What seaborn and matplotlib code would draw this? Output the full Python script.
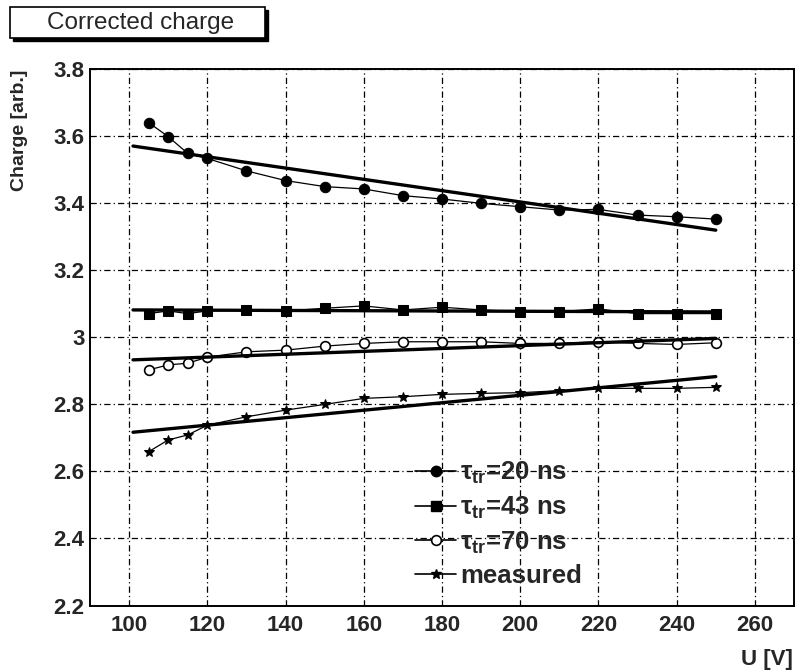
import matplotlib
matplotlib.use("Agg")
import matplotlib.pyplot as plt
from matplotlib.lines import Line2D
from matplotlib.patches import Rectangle
from matplotlib.ticker import MultipleLocator
import seaborn as sns
import pandas as pd

# ---- data ----
voltage = [105, 110, 115, 120, 130, 140, 150, 160, 170, 180, 190, 200, 210, 220, 230, 240, 250]
tau20 = [3.641, 3.599, 3.549, 3.534, 3.497, 3.468, 3.450, 3.443, 3.423, 3.413,
         3.400, 3.390, 3.380, 3.382, 3.365, 3.360, 3.353]
tau43 = [3.071, 3.079, 3.071, 3.079, 3.082, 3.079, 3.087, 3.094, 3.082, 3.090,
         3.082, 3.077, 3.077, 3.085, 3.071, 3.071, 3.071]
tau70 = [2.903, 2.918, 2.923, 2.941, 2.957, 2.962, 2.974, 2.982, 2.987, 2.987,
         2.987, 2.982, 2.982, 2.987, 2.982, 2.979, 2.984]
measured = [2.659, 2.694, 2.709, 2.738, 2.763, 2.783, 2.800, 2.818, 2.823, 2.830,
            2.833, 2.835, 2.841, 2.848, 2.848, 2.848, 2.851]

fit_x = [101, 250]
fit20 = [3.571, 3.320]
fit43 = [3.082, 3.076]
fit70 = [2.933, 2.997]
fitm = [2.717, 2.883]

labels = [r"$\tau_{tr}$=20 ns", r"$\tau_{tr}$=43 ns", r"$\tau_{tr}$=70 ns", "measured"]
title_text = "Corrected charge"
xlabel = "U [V]"
ylabel = "Charge [arb.]"
xticks = [100, 120, 140, 160, 180, 200, 220, 240, 260]
xticklabels = ["100", "120", "140", "160", "180", "200", "220", "240", "260"]
yticks = [2.2, 2.4, 2.6, 2.8, 3.0, 3.2, 3.4, 3.6, 3.8]
yticklabels = ["2.2", "2.4", "2.6", "2.8", "3", "3.2", "3.4", "3.6", "3.8"]

# ---- style ----
sns.set_style("white")
plt.rcParams["font.family"] = ["Liberation Sans", "DejaVu Sans"]
plt.rcParams["mathtext.fontset"] = "custom"
plt.rcParams["mathtext.it"] = "Liberation Sans:bold"
plt.rcParams["mathtext.rm"] = "Liberation Sans:bold"
NARROW = ["Liberation Sans Narrow", "Liberation Sans", "DejaVu Sans"]

W, H = 796, 672
fig = plt.figure(figsize=(W / 100, H / 100), dpi=100)
ax = fig.add_axes([90 / W, 1 - 605.5 / H, (794 - 90) / W, (605.5 - 69.3) / H])

series = [
    (tau20, fit20, dict(marker="o", markersize=7.5, markerfacecolor="black", markeredgecolor="black")),
    (tau43, fit43, dict(marker="s", markersize=7, markerfacecolor="black", markeredgecolor="black")),
    (tau70, fit70, dict(marker="o", markersize=7, markerfacecolor="white", markeredgecolor="black", markeredgewidth=1.2)),
    (measured, fitm, dict(marker="*", markersize=7, markerfacecolor="black", markeredgecolor="black")),
]

for vals, fit, mk in series:
    df = pd.DataFrame({"U": voltage, "Q": vals})
    sns.lineplot(data=df, x="U", y="Q", ax=ax, color="black", lw=0.9, zorder=3, **mk)
    dff = pd.DataFrame({"U": fit_x, "Q": fit})
    sns.lineplot(data=dff, x="U", y="Q", ax=ax, color="black", lw=2.4, zorder=4)

ax.set_xlim(90, 270)
ax.set_ylim(2.2, 3.8)
ax.xaxis.set_minor_locator(MultipleLocator(5))
ax.yaxis.set_minor_locator(MultipleLocator(0.05))
ax.set_xticks(xticks)
ax.set_xticklabels(xticklabels)
ax.set_yticks(yticks)
ax.set_yticklabels(yticklabels)

ax.tick_params(axis="both", which="both", direction="in", top=False, right=False,
               color="black", width=1.0, labelsize=16)
ax.tick_params(axis="x", which="major", length=10, pad=7)
ax.tick_params(axis="x", which="minor", length=5)
ax.tick_params(axis="y", which="major", length=14, pad=4)
ax.tick_params(axis="y", which="minor", length=8)
for lab in ax.get_xticklabels() + ax.get_yticklabels():
    lab.set_fontweight("bold")
    lab.set_family(NARROW)

ax.grid(True, which="major", color="black", linestyle=(0, (5, 2.5, 1, 2.5)), lw=0.9)
for s in ax.spines.values():
    s.set_color("black")
    s.set_linewidth(1.4)
    s.set_visible(True)

ax.set_xlabel("")
ax.set_ylabel("")
fig.text(793 / W, 1 - 659 / H, xlabel, ha="right", va="center", fontsize=16,
         fontweight="bold", family=NARROW)
fig.text(20 / W, 1 - 70 / H, ylabel, ha="center", va="top", rotation=90, fontsize=14,
         fontweight="bold")

# legend
handles = [Line2D([0], [0], color="black", lw=1.2, **s[2]) for s in series]
leg = ax.legend(handles, labels, loc="upper left", bbox_to_anchor=(415 / W, 1 - 460 / H),
                bbox_transform=fig.transFigure, frameon=False, fontsize=18.5,
                handlelength=1.6, handletextpad=0.15, labelspacing=0.33, borderpad=0,
                borderaxespad=0)
for t in leg.get_texts():
    t.set_fontweight("bold")

# title box with shadow
fig.patches.append(Rectangle((13 / W, 1 - 41 / H), 255 / W, 31 / H, transform=fig.transFigure,
                             facecolor="black", edgecolor="black", zorder=1))
fig.patches.append(Rectangle((10 / W, 1 - 38 / H), 255 / W, 31 / H, transform=fig.transFigure,
                             facecolor="white", edgecolor="black", lw=1.2, zorder=2))
fig.text(141 / W, 1 - 22.5 / H, title_text, ha="center", va="center", fontsize=17.5, zorder=3)

fig.savefig("out.png", dpi=100)
